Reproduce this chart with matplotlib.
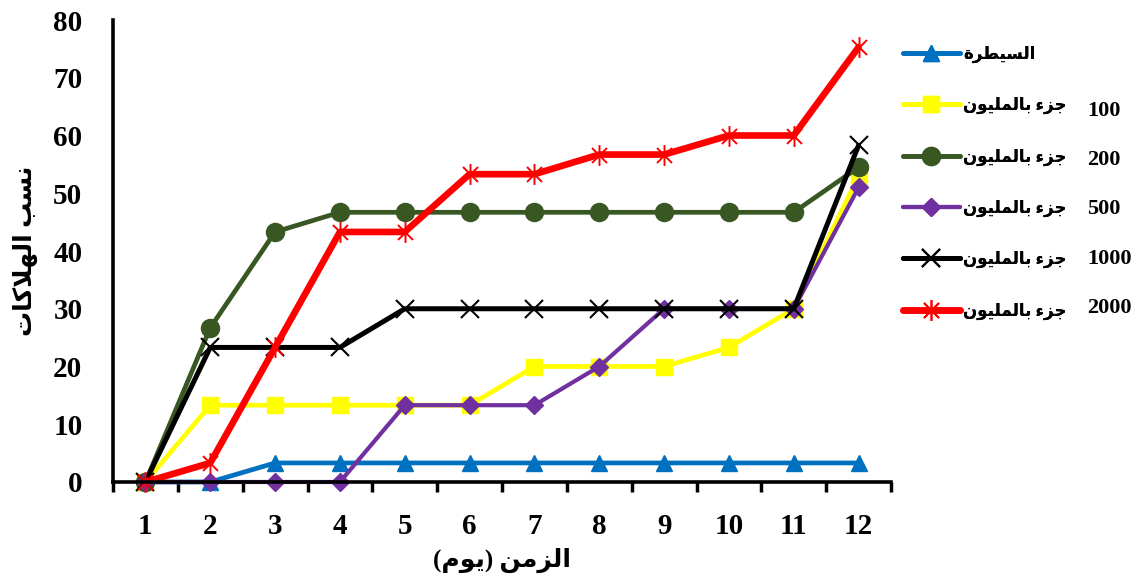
import matplotlib
matplotlib.use("Agg")
import matplotlib.pyplot as plt
from matplotlib.path import Path
from matplotlib.lines import Line2D

# ---------------- data ----------------
days = [1, 2, 3, 4, 5, 6, 7, 8, 9, 10, 11, 12]
control = [0, 0, 3.3, 3.3, 3.3, 3.3, 3.3, 3.3, 3.3, 3.3, 3.3, 3.3]
ppm100 = [0, 13.3, 13.3, 13.3, 13.3, 13.3, 20, 20, 20, 23.3, 30, 53]
ppm200 = [0, 26.7, 43.3, 46.7, 46.7, 46.7, 46.7, 46.7, 46.7, 46.7, 46.7, 54.5]
ppm500 = [0, 0, 0, 0, 13.3, 13.3, 13.3, 20, 30, 30, 30, 51]
ppm1000 = [0, 23.3, 23.3, 23.3, 30, 30, 30, 30, 30, 30, 30, 58.3]
ppm2000 = [0, 3.3, 23.3, 43.3, 43.3, 53.3, 53.3, 56.7, 56.7, 60, 60, 75.3]
conc_labels = ["100", "200", "500", "1000", "2000"]
yticks = [0, 10, 20, 30, 40, 50, 60, 70, 80]

# ---------------- simple Arabic shaping ----------------
FORMS = {
    'ا': (0xFE8D, 0xFE8E, None, None),
    'ب': (0xFE8F, 0xFE90, 0xFE91, 0xFE92),
    'ة': (0xFE93, 0xFE94, None, None),
    'ت': (0xFE95, 0xFE96, 0xFE97, 0xFE98),
    'ج': (0xFE9D, 0xFE9E, 0xFE9F, 0xFEA0),
    'ر': (0xFEAD, 0xFEAE, None, None),
    'ز': (0xFEAF, 0xFEB0, None, None),
    'س': (0xFEB1, 0xFEB2, 0xFEB3, 0xFEB4),
    'ط': (0xFEC1, 0xFEC2, 0xFEC3, 0xFEC4),
    'ك': (0xFED9, 0xFEDA, 0xFEDB, 0xFEDC),
    'ل': (0xFEDD, 0xFEDE, 0xFEDF, 0xFEE0),
    'م': (0xFEE1, 0xFEE2, 0xFEE3, 0xFEE4),
    'ن': (0xFEE5, 0xFEE6, 0xFEE7, 0xFEE8),
    'ه': (0xFEE9, 0xFEEA, 0xFEEB, 0xFEEC),
    'و': (0xFEED, 0xFEEE, None, None),
    'ي': (0xFEF1, 0xFEF2, 0xFEF3, 0xFEF4),
    'ء': (0xFE80, None, None, None),
}


def joins_left(c):
    return c in FORMS and FORMS[c][2] is not None


def joins_right(c):
    return c in FORMS and FORMS[c][1] is not None


def shape(s):
    out = []
    i = 0
    n = len(s)
    while i < n:
        c = s[i]
        if c not in FORMS:
            out.append(c)
            i += 1
            continue
        prev = s[i - 1] if i > 0 else ''
        cp = joins_left(prev) and joins_right(c)
        if c == 'ل' and i + 1 < n and s[i + 1] == 'ا':
            out.append(chr(0xFEFC if cp else 0xFEFB))
            i += 2
            continue
        nxt = s[i + 1] if i + 1 < n else ''
        cn = joins_left(c) and joins_right(nxt)
        iso, fin, ini, med = FORMS[c]
        if cp and cn:
            out.append(chr(med))
        elif cp:
            out.append(chr(fin))
        elif cn:
            out.append(chr(ini))
        else:
            out.append(chr(iso))
        i += 1
    return out


def visual(s):
    mirror = {'(': ')', ')': '('}
    return ''.join(mirror.get(ch, ch) for ch in reversed(shape(s)))


ppm_text = visual("جزء بالمليون")
series_labels = [visual("السيطرة")] + [ppm_text for _ in conc_labels]

# ---------------- plot ----------------
FONT = ['Liberation Serif', 'DejaVu Sans']
plt.rcParams['font.family'] = FONT
plt.rcParams['font.weight'] = 'bold'

fig = plt.figure(figsize=(11.33, 5.82), dpi=100)
ax = fig.add_axes([113 / 1133, 100 / 582, 778 / 1133, 462 / 582])

star = Path([(0, -1), (0, 1), (-0.72, -0.72), (0.72, 0.72), (-0.72, 0.72), (0.72, -0.72)],
            [Path.MOVETO, Path.LINETO, Path.MOVETO, Path.LINETO, Path.MOVETO, Path.LINETO])

styles = [
    dict(color='#0070C0', marker='^', ms=12, lw=3.4),
    dict(color='#FFFF00', marker='s', ms=11, lw=3.4),
    dict(color='#385723', marker='o', ms=13, lw=3.4),
    dict(color='#7030A0', marker='D', ms=9.5, lw=3.0),
    dict(color='#000000', marker='x', ms=13, mew=1.5, lw=3.6),
    dict(color='#FF0000', marker=star, ms=15, mew=1.4, lw=4.8),
]
series = [control, ppm100, ppm200, ppm500, ppm1000, ppm2000]
for vals, st, lab in zip(series, styles, series_labels):
    ax.plot(days, vals, label=lab, solid_capstyle='round', solid_joinstyle='round', **st)

ax.set_xlim(0.5, 12.5)
ax.set_ylim(0, 80)
ax.set_yticks(yticks)
ax.set_yticklabels([str(v) for v in yticks], fontsize=21, fontweight='bold')
ax.tick_params(axis='y', length=0, pad=22)

ax.set_xticks([d - 0.5 for d in days] + [days[-1] + 0.5])
ax.set_xticklabels([])
ax.set_xticks(days, minor=True)
ax.set_xticklabels([str(d) for d in days], minor=True, fontsize=21, fontweight='bold')
ax.tick_params(axis='x', which='major', length=7, width=2.5, direction='out')
ax.tick_params(axis='x', which='minor', length=0, pad=22)

for sp in ['top', 'right']:
    ax.spines[sp].set_visible(False)
for sp in ['left', 'bottom']:
    ax.spines[sp].set_linewidth(2.6)
    ax.spines[sp].set_capstyle('projecting')

ax.set_xlabel(visual("الزمن (يوم)"), fontsize=18, fontweight='bold', labelpad=6)
ax.set_ylabel(visual("نسب الهلاكات"), fontsize=18, fontweight='bold', labelpad=11)

leg = ax.legend(loc='upper left', bbox_to_anchor=(903 / 1133, 1 - 46 / 582), bbox_transform=fig.transFigure,
                frameon=False, fontsize=12, handlelength=3.4, handletextpad=0.2,
                labelspacing=2.05, borderaxespad=0, borderpad=0)
ax.add_artist(leg)

# concentration numbers shown to the right of each legend entry
blank = [Line2D([], [], linestyle='none') for _ in conc_labels]
fig.legend(blank, conc_labels, loc='upper left', bbox_to_anchor=(1087 / 1133, 1 - 100 / 582),
           frameon=False, prop=dict(family='Liberation Serif', weight='bold', size=16),
           handlelength=0, handletextpad=0, labelspacing=1.3, borderaxespad=0, borderpad=0)

for ln in ax.lines:
    ln.set_clip_on(False)

fig.savefig("out.png", dpi=100)
